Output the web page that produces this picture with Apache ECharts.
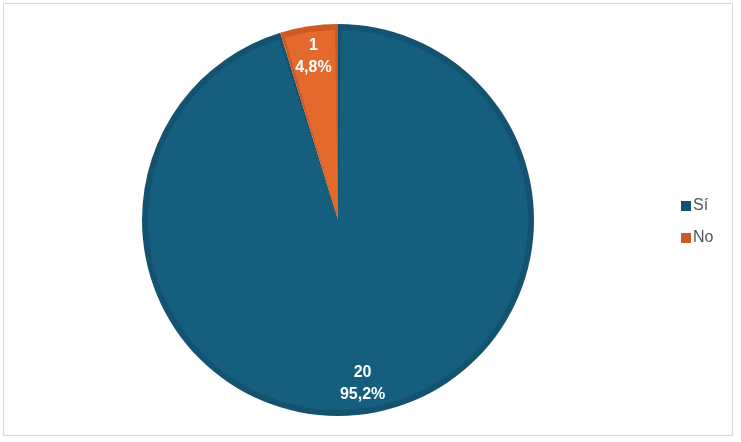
<!DOCTYPE html>
<html>
<head>
<meta charset="utf-8">
<script src="https://cdn.jsdelivr.net/npm/echarts@6/dist/echarts.min.js"></script>
<style>html,body{margin:0;padding:0;background:#fff}#c{width:741px;height:442px}</style>
</head>
<body>
<div id="c"></div>
<script>
const categories = ['Sí', 'No'];
const counts = [20, 1];
const percents = ['95,2%', '4,8%'];

const fillColors = ['#165e7e', '#e4692d'];
const darkColors = ['#13536f', '#cc5a22'];

const chart = echarts.init(document.getElementById('c'), null, {renderer: 'canvas'});
const center = [338, 220];

function mk(colors) {
  return categories.map((c, i) => ({ name: c, value: counts[i], itemStyle: { color: colors[i] } }));
}

chart.setOption({
  animation: false,
  graphic: [{
    type: 'rect', silent: true, z: -10,
    shape: { x: 3.5, y: 3.5, width: 729, height: 432 },
    style: { fill: 'none', stroke: '#d6d6d6', lineWidth: 1 }
  }],
  legend: {
    orient: 'vertical',
    left: 676,
    top: 193,
    itemWidth: 10,
    itemHeight: 10,
    itemGap: 16,
    icon: 'rect',
    data: categories,
    textStyle: { fontFamily: 'Liberation Sans, Arial', fontSize: 16, color: '#555555', padding: [0, 0, 0, -3] }
  },
  series: [
    {
      type: 'pie', name: 'dark', center: center, radius: [0, 196],
      startAngle: 90, clockwise: true, silent: true,
      label: { show: false }, labelLine: { show: false },
      data: mk(darkColors)
    },
    {
      type: 'pie', name: 'fill', center: center, radius: [0, 190],
      startAngle: 90, clockwise: true, silent: true, padAngle: 1.8,
      label: { show: false }, labelLine: { show: false },
      data: mk(fillColors)
    },
    {
      type: 'pie', name: 'labels', center: center, radius: [128, 196],
      startAngle: 90, clockwise: true, silent: true,
      itemStyle: { color: 'rgba(0,0,0,0)' },
      labelLine: { show: false },
      label: {
        show: true, position: 'inside',
        formatter: p => counts[p.dataIndex] + '\n' + percents[p.dataIndex],
        color: '#ffffff', fontWeight: 'bold', fontSize: 16, lineHeight: 22,
        fontFamily: 'Liberation Sans, Arial'
      },
      data: categories.map((c, i) => ({ name: c, value: counts[i] }))
    }
  ]
});
</script>
</body>
</html>
